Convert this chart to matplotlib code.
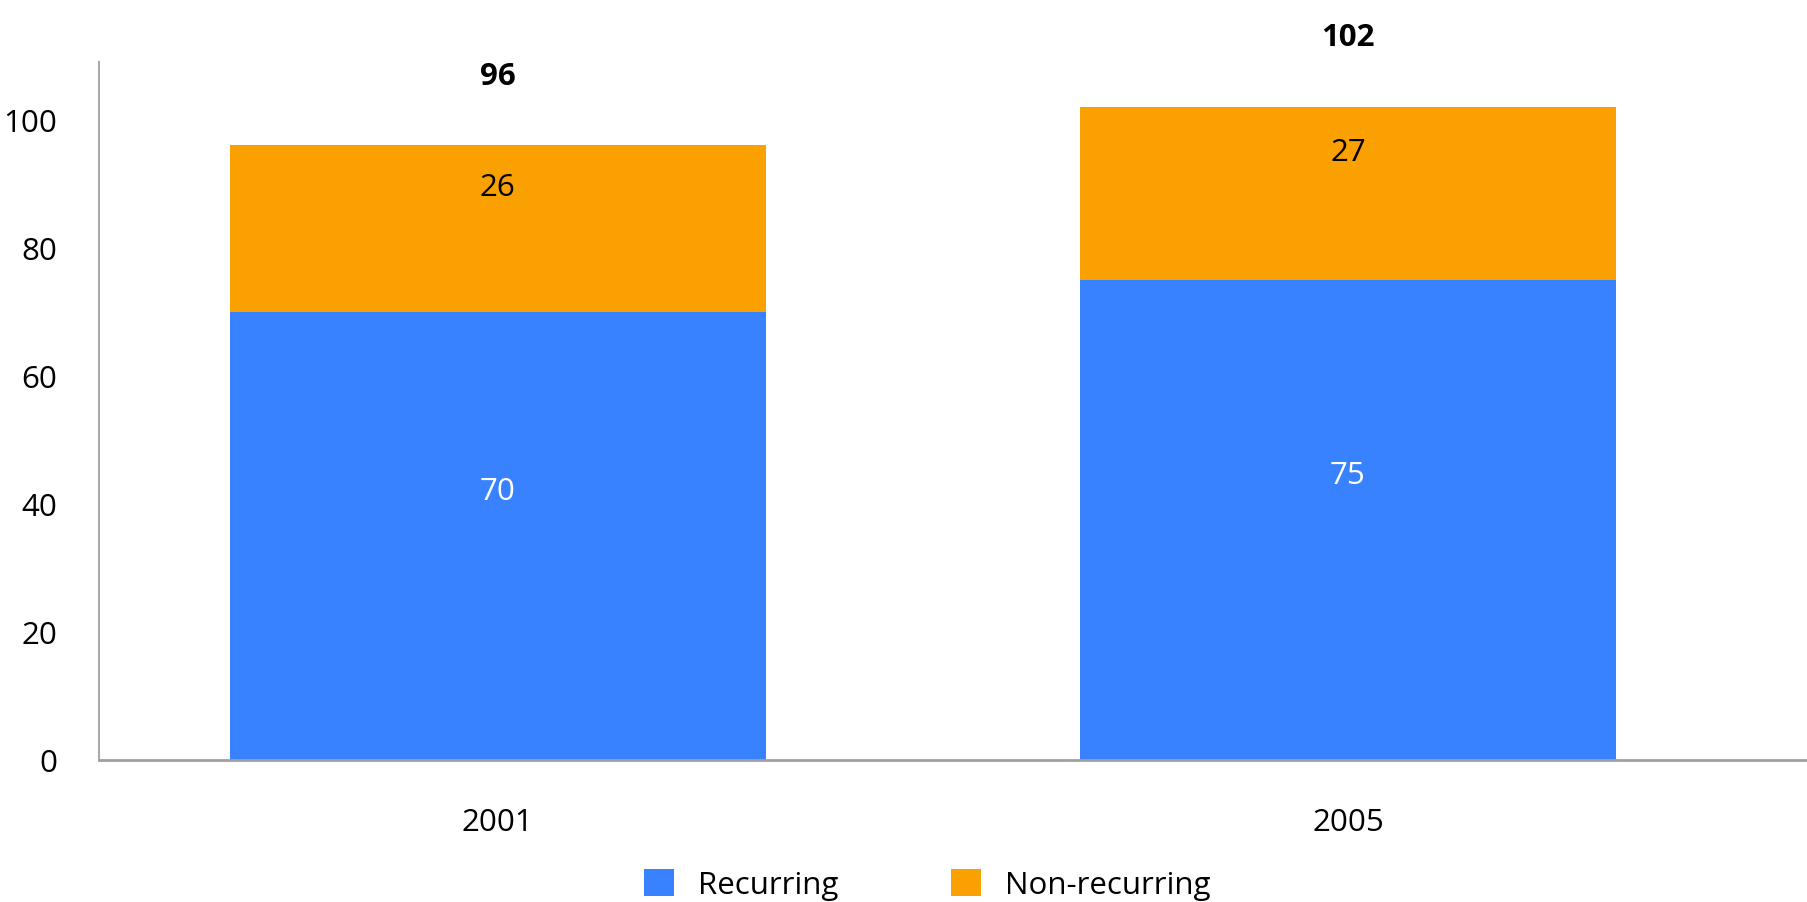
import matplotlib.pyplot as plt
import numpy as np

plt.rcParams['font.family'] = ['Open Sans', 'DejaVu Sans']

# Data
years = ['2001', '2005']
recurring = np.array([70, 75])
non_recurring = np.array([26, 27])
totals = recurring + non_recurring

blue = '#3882ff'
orange = '#faa000'
fs = 22.5

fig = plt.figure(figsize=(18.07, 9.03), dpi=100)
ax = fig.add_axes([99 / 1807, 1 - 761 / 903, 1 - 99 / 1807, 698 / 903])

x = np.arange(len(years))
w = 0.63
ax.bar(x, recurring, w, color=blue, label='Recurring')
ax.bar(x, non_recurring, w, bottom=recurring, color=orange, label='Non-recurring')

# Value labels inside the segments, totals on top
for i in range(len(years)):
    ax.annotate(str(recurring[i]), (x[i], recurring[i] / 2), xytext=(0, 32),
                textcoords='offset points', ha='center', va='center',
                fontsize=fs, color='white')
    ax.annotate(str(non_recurring[i]), (x[i], recurring[i] + non_recurring[i] / 2),
                xytext=(0, 30), textcoords='offset points', ha='center',
                va='center', fontsize=fs, color='black')
    ax.annotate(str(totals[i]), (x[i], totals[i]), xytext=(0, 50),
                textcoords='offset points', ha='center', va='center',
                fontsize=fs, fontweight='bold', color='black',
                annotation_clip=False)

ax.set_xlim(-0.469, 1.54)
ax.set_ylim(0, 109)
ax.set_xticks(x)
ax.set_xticklabels(years, fontsize=fs)
ax.set_yticks(np.arange(0, 101, 20))
ax.tick_params(axis='y', labelsize=fs, length=0, pad=30)
ax.tick_params(axis='x', length=0, pad=34)

for s in ['top', 'right']:
    ax.spines[s].set_visible(False)
ax.spines['left'].set_color('#aaaaaa')
ax.spines['bottom'].set_color('#a0a0a0')
ax.spines['left'].set_linewidth(1.5)
ax.spines['bottom'].set_linewidth(2)

ax.legend(loc='center', bbox_to_anchor=(0.485, -0.178),
          ncol=2, frameon=False, fontsize=fs, handlelength=0.96, handleheight=0.96,
          columnspacing=3.6, handletextpad=0.77)

fig.savefig('out.png', dpi=100)
